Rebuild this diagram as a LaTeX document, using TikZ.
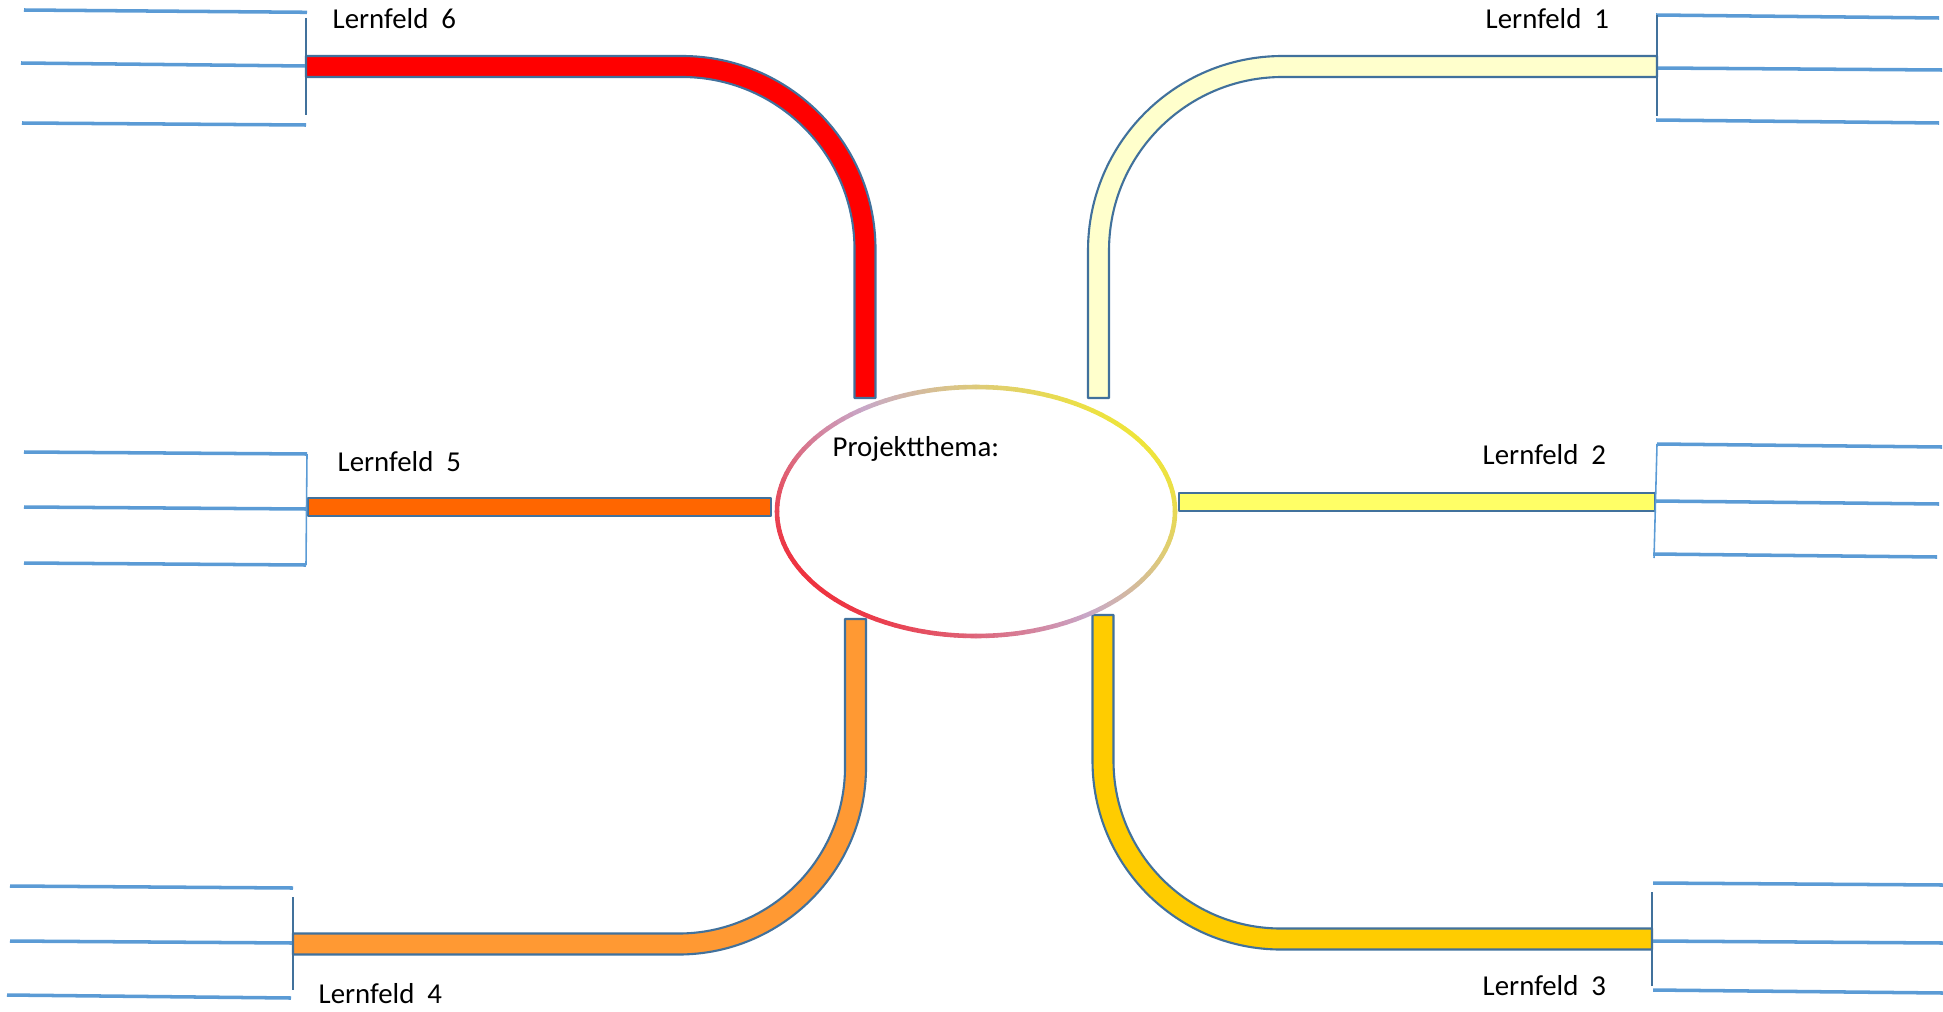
\documentclass[tikz,border=0pt]{standalone}
\usepackage{fontspec}
\setmainfont{Carlito}
\definecolor{bandline}{HTML}{41719C}
\definecolor{rakeblue}{HTML}{5B9BD5}
\definecolor{lf1}{HTML}{FFFFCC}
\definecolor{lf2}{HTML}{FFFF66}
\definecolor{lf3}{HTML}{FFCC00}
\definecolor{lf4}{HTML}{FF9933}
\definecolor{lf5}{HTML}{FF6600}
\definecolor{lf6}{HTML}{FF0000}
\definecolor{ringred}{HTML}{EE3340}
\definecolor{ringlav}{HTML}{C8A8C8}
\definecolor{ringyel}{HTML}{EEE43C}
\begin{document}
\begin{tikzpicture}[x=0.01cm, y=0.01cm, line join=round, font=\fontsize{8.2pt}{10pt}\selectfont,
	band/.style={draw=bandline, line width=0.6pt},
	rake/.style={rakeblue, line width=1pt},
	bar/.style={bandline, line width=0.7pt},
	lftext/.style={anchor=base west, inner sep=0pt}]
	\useasboundingbox (0,0) rectangle (1943,1011);
	% branches
	\draw[band, fill=lf6] (306,955) -- (682,955) arc[start angle=90, end angle=0, radius=193.5] -- (875.5,613) -- (854.5,613) -- (854.5,761.5) arc[start angle=0, end angle=90, radius=172.5] -- (306,934) -- cycle;
	\draw[band, fill=lf1] (1657,955) -- (1282.5,955) arc[start angle=90, end angle=180, radius=194.5] -- (1088,613) -- (1109,613) -- (1109,760.5) arc[start angle=180, end angle=90, radius=173.5] -- (1657,934) -- cycle;
	\draw[band, fill=lf4] (845,392) -- (845,244) arc[start angle=0, end angle=-90, radius=166.5] -- (293,77.5) -- (293,56.5) -- (678.5,56.5) arc[start angle=-90, end angle=0, radius=187.5] -- (866,392) -- cycle;
	\draw[band, fill=lf3] (1092.5,396) -- (1092.5,250) arc[start angle=180, end angle=270, radius=188.5] -- (1652,61.5) -- (1652,82.5) -- (1281,82.5) arc[start angle=270, end angle=180, radius=167.5] -- (1113.5,396) -- cycle;
	\draw[band, fill=lf2] (1179,500) rectangle (1655,518);
	\draw[band, fill=lf5] (308,495) rectangle (771,513);
	% ring
	\coordinate (mitte) at (976,499.5);
	\foreach \a in {0,3,...,357} {
		\pgfmathsetmacro\tpos{(0.67*199*cos(\a+1.5)+0.745*124.5*sin(\a+1.5))/162}
		\pgfmathsetmacro\pmix{min(100,100*abs(\tpos))}
		\ifdim\tpos pt<0pt \colorlet{ring}{ringred!\pmix!ringlav}\else\colorlet{ring}{ringyel!\pmix!ringlav}\fi
		\draw[ring, line width=1.3pt, line cap=round] ({976+199*cos(\a)},{499.5+124.5*sin(\a)}) arc[start angle=\a, delta angle=3, x radius=199, y radius=124.5];
	}
	% rakes
	\draw[rake] (24,1001) -- (307,998.7) (21,948) -- (306,945) (22,888) -- (306,886);
	\draw[bar] (306,993) -- (306,896);
	\draw[rake] (1656,996) -- (1939,993) (1656,943) -- (1942,941) (1656,891) -- (1939,888);
	\draw[bar] (1657,996) -- (1657,895);
	\draw[rake] (1657,567) -- (1942,564) (1656,510) -- (1939,507) (1653,457) -- (1937,454);
	\draw[rakeblue, line width=0.45pt] (1657,567) -- (1654,453);
	\draw[rake] (1653,128) -- (1943,126) (1653,70) -- (1943,68) (1653,21) -- (1943,18);
	\draw[bar] (1652,119) -- (1652,25);
	\draw[rake] (10,125) -- (293,123) (10,70) -- (293,68) (7,16) -- (291,13);
	\draw[bar] (293,114) -- (293,21);
	\draw[rake] (24,559) -- (307,557) (24,504) -- (307,502) (24,448) -- (306,446);
	\draw[rakeblue, line width=0.45pt] (307,557) -- (306,446);
	% labels
	\node[lftext] (lab1) at (1485,982) {Lernfeld\ \ 1};
	\node[lftext] (lab2) at (1482,547) {Lernfeld\ \ 2};
	\node[lftext] (lab3) at (1482,16) {Lernfeld\ \ 3};
	\node[lftext] (lab4) at (318,8) {Lernfeld\ \ 4};
	\node[lftext] (lab5) at (337,540) {Lernfeld\ \ 5};
	\node[lftext] (lab6) at (332,982) {Lernfeld\ \ 6};
	\node[lftext] (thema) at (832,555) {Projektthema:};
\end{tikzpicture}
\end{document}
